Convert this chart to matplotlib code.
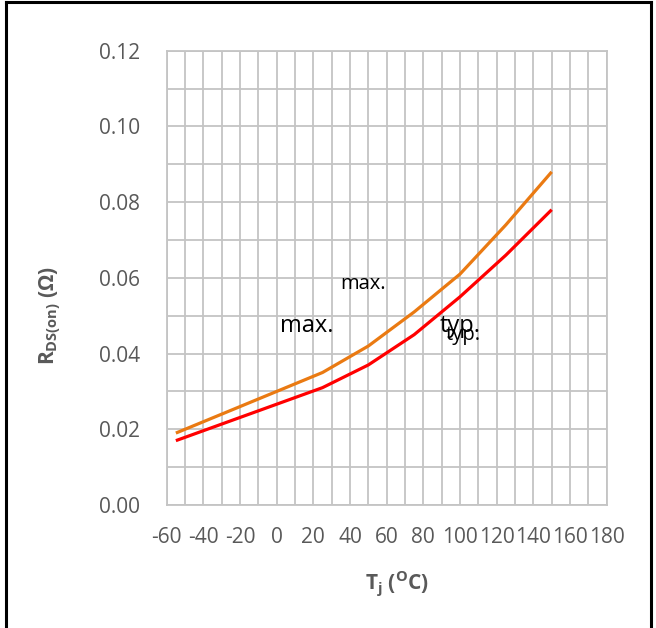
import numpy as np
import matplotlib
matplotlib.use("Agg")
import matplotlib.pyplot as plt
from matplotlib.lines import Line2D

plt.rcParams['font.family'] = ['Open Sans', 'DejaVu Sans']
plt.rcParams['mathtext.fontset'] = 'custom'
plt.rcParams['mathtext.rm'] = 'Open Sans:bold'
plt.rcParams['mathtext.it'] = 'Open Sans:bold'
plt.rcParams['axes.unicode_minus'] = False

# junction temperature (degC) and on-resistance (ohm)
tj = [-55, 25, 50, 75, 100, 125, 150]
rds_typ = [0.017, 0.031, 0.037, 0.045, 0.055, 0.066, 0.078]
rds_max = [0.019, 0.035, 0.042, 0.051, 0.061, 0.074, 0.088]

xticks = list(range(-60, 181, 20))
yticks = [0.00, 0.02, 0.04, 0.06, 0.08, 0.10, 0.12]

grey = '#595959'
gridc = '#c4c4c4'

fig = plt.figure(figsize=(6.56, 6.28), dpi=100)
ax = fig.add_axes([166.7/656, 1-505/628, 440/656, 454.3/628])

ax.plot(tj, rds_typ, color='#ff0000', lw=2.3, solid_capstyle='butt', zorder=3)
ax.plot(tj, rds_max, color='#ea7a12', lw=2.3, solid_capstyle='butt', zorder=3)

ax.set_xlim(-60, 180)
ax.set_ylim(0, 0.12)
ax.set_xticks(xticks)
ax.set_xticklabels([str(v) for v in xticks])
ax.set_xticks(np.arange(-60, 181, 10), minor=True)
ax.set_yticks(yticks)
ax.set_yticks(np.arange(0, 0.1201, 0.01), minor=True)
ax.set_yticklabels([f'{v:.2f}' for v in yticks])
ax.grid(which='both', color=gridc, lw=1.3)
ax.set_axisbelow(True)
for s in ax.spines.values():
    s.set_color(gridc)
    s.set_linewidth(1.3)
ax.tick_params(which='both', length=0, labelsize=15, labelcolor=grey)
ax.tick_params(axis='x', pad=16)
ax.tick_params(axis='y', pad=19)

# curve annotations
ax.text(34.5, 0.0571, 'max.', fontsize=14.5, va='baseline', ha='left')
ax.text(1.8, 0.0456, 'max.', fontsize=17, va='baseline', ha='left')
ax.text(89.1, 0.0456, 'typ.', fontsize=17, va='baseline', ha='left')
ax.text(92.4, 0.0437, 'typ.', fontsize=14.5, va='baseline', ha='left')

fig.text(50/656, 1-315/628, r'R$_{\mathrm{DS(on)}}$ ($\Omega$)', rotation=90,
         ha='center', va='center', fontsize=15, fontweight='bold', color=grey)
fig.text(397/656, 1-583/628, r'T$_{\mathrm{j}}$ ($^{\mathrm{O}}$C)',
         ha='center', va='center', fontsize=15, fontweight='bold', color=grey)

# outer frame, open at the bottom
fr = dict(color='black', lw=2.2, transform=fig.transFigure)
fig.add_artist(Line2D([6/656, 6/656], [0, 1-2/628], **fr))
fig.add_artist(Line2D([651/656, 651/656], [0, 1-2/628], **fr))
fig.add_artist(Line2D([6/656, 651/656], [1-2/628, 1-2/628], **fr))

fig.savefig('out.png', dpi=100)
